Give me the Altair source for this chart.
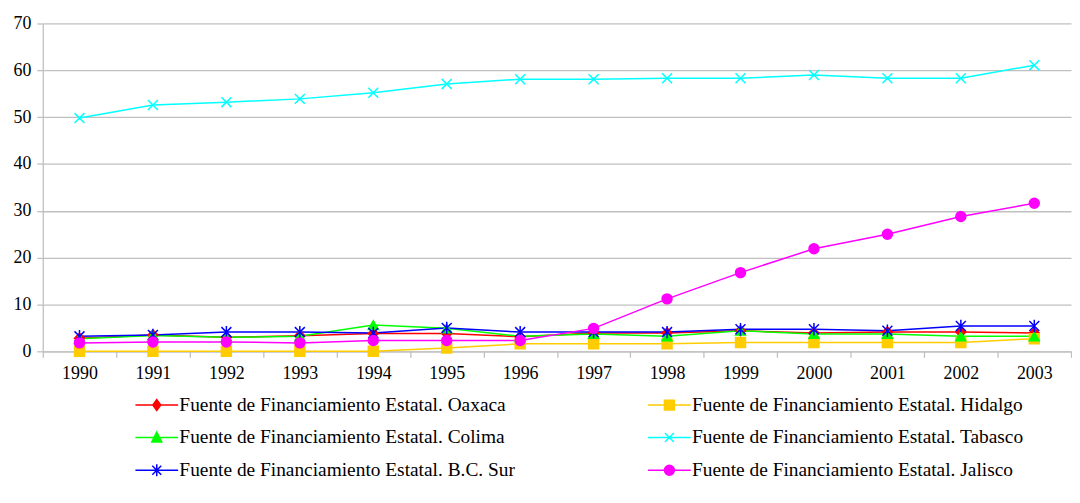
import altair as alt
import pandas as pd

years = [str(y) for y in range(1990, 2004)]

series = [
    "Fuente de Financiamiento Estatal. Oaxaca",
    "Fuente de Financiamiento Estatal. Hidalgo",
    "Fuente de Financiamiento Estatal. Colima",
    "Fuente de Financiamiento Estatal. Tabasco",
    "Fuente de Financiamiento Estatal. B.C. Sur",
    "Fuente de Financiamiento Estatal. Jalisco",
]

oaxaca = [2.8, 3.5, 3.0, 3.3, 3.8, 3.8, 3.1, 3.9, 3.9, 4.4, 3.9, 4.1, 4.1, 3.9]
hidalgo = [0, 0, 0, 0, 0, 0.7, 1.6, 1.6, 1.6, 1.9, 1.9, 1.9, 1.9, 2.7]
colima = [2.7, 3.4, 3.0, 3.2, 5.6, 4.9, 3.2, 3.7, 3.2, 4.4, 3.7, 3.7, 3.2, 3.2]
tabasco = [49.8, 52.6, 53.2, 53.9, 55.2, 57.1, 58.1, 58.1, 58.3, 58.3, 59.0, 58.3, 58.3, 61.1]
bcsur = [3.2, 3.5, 4.1, 4.1, 3.9, 5.0, 4.1, 4.1, 4.1, 4.7, 4.7, 4.4, 5.4, 5.4]
jalisco = [1.8, 2.0, 2.0, 1.8, 2.3, 2.3, 2.3, 4.9, 11.2, 16.8, 21.9, 25.0, 28.8, 31.6]

values = [oaxaca, hidalgo, colima, tabasco, bcsur, jalisco]
colors = ["#FF0000", "#FFCC00", "#00FF00", "#00FFFF", "#0000FF", "#FF00FF"]

point_shapes = [
    "diamond",
    "square",
    "triangle-up",
    "M-1,-1L1,1M-1,1L1,-1",
    "M-1,-1L1,1M-1,1L1,-1M0,-1.25L0,1.25",
    "circle",
]
LINE = "M-4.3,0L4.3,0"
legend_shapes = [
    LINE + "M0,-1.1L0.8,0L0,1.1L-0.8,0Z",
    LINE + "M-1,-1H1V1H-1Z",
    LINE + "M0,-1.1L1,0.9H-1Z",
    LINE + "M-0.9,-0.9L0.9,0.9M-0.9,0.9L0.9,-0.9",
    LINE + "M-0.9,-0.9L0.9,0.9M-0.9,0.9L0.9,-0.9M0,-1.2L0,1.2",
    LINE + "M-1,0A1,1 0 1,0 1,0A1,1 0 1,0 -1,0Z",
]

rows = []
for name, vals in zip(series, values):
    for yr, v in zip(years, vals):
        rows.append({"year": yr, "series": name, "value": v})
df = pd.DataFrame(rows)


def switch_expr(options):
    expr = "'%s'" % options[-1]
    for s, o in reversed(list(zip(series[:-1], options[:-1]))):
        expr = "datum.value === '%s' ? '%s' : (%s)" % (s, o, expr)
    return alt.ExprRef(expr=expr)


FONT = "Times New Roman"
GRAY = "#C0C0C0"

x_enc = alt.X(
    "year:O",
    title=None,
    bandPosition=0.5,
    scale=alt.Scale(type="band", paddingInner=0, paddingOuter=0, domain=years),
    axis=alt.Axis(
        labelAngle=0,
        tickBand="extent",
        grid=False,
        domainColor=GRAY,
        domainWidth=1.3,
        tickColor=GRAY,
        tickWidth=1.3,
        tickSize=6,
        labelFont=FONT,
        labelFontSize=18,
        labelColor="black",
        labelPadding=7,
    ),
)
y_enc = alt.Y(
    "value:Q",
    title=None,
    scale=alt.Scale(domain=[0, 70], nice=False),
    axis=alt.Axis(
        values=[0, 10, 20, 30, 40, 50, 60, 70],
        grid=True,
        gridColor=GRAY,
        gridWidth=1.3,
        domainColor=GRAY,
        domainWidth=1.3,
        tickColor=GRAY,
        tickWidth=1.3,
        tickSize=6,
        labelFont=FONT,
        labelFontSize=18,
        labelColor="black",
        labelPadding=6,
    ),
)

legend = alt.Legend(
    title=None,
    orient="none",
    legendX=105,
    legendY=374,
    columns=2,
    columnPadding=130,
    rowPadding=12,
    symbolSize=100,
    symbolStrokeWidth=1.5,
    symbolOffset=0,
    symbolOpacity=1,
    symbolType=switch_expr(legend_shapes),
    symbolFillColor=switch_expr(colors),
    symbolStrokeColor=switch_expr(colors),
    labelOffset=13,
    labelFont=FONT,
    labelFontSize=19.5,
    labelColor="black",
    labelLimit=600,
)

# legend lays out column by column: order the domain so rows read pairwise
legend_order = [0, 2, 4, 1, 3, 5]
color_enc = alt.Color(
    "series:N",
    scale=alt.Scale(domain=[series[i] for i in legend_order], range=[colors[i] for i in legend_order]),
    legend=legend,
)
perm = [5, 4, 3, 2, 1, 0]
stroke_enc = alt.Stroke(
    "series:N",
    scale=alt.Scale(domain=[series[i] for i in perm], range=[colors[i] for i in perm]),
    legend=None,
)
perm2 = [1, 2, 3, 4, 5, 0]
shape_enc = alt.Shape(
    "series:N",
    scale=alt.Scale(domain=[series[i] for i in perm2], range=[point_shapes[i] for i in perm2]),
    legend=None,
)

lines = alt.Chart(df).mark_line(strokeWidth=1.5).encode(
    x=x_enc,
    y=y_enc,
    color=color_enc,
    detail="series:N",
)

points = alt.Chart(df).mark_point(filled=True, size=100, strokeWidth=1.5, opacity=1).encode(
    x=x_enc,
    y=y_enc,
    color=color_enc,
    stroke=stroke_enc,
    shape=shape_enc,
)

chart = (
    alt.layer(lines, points)
    .properties(
        width=1035,
        height=330,
        padding={"left": 5, "top": 5, "right": 0, "bottom": 5},
        background="white",
    )
    .configure(font=FONT)
    .configure_view(stroke=None)
)

chart.save("out.html", embed_options={"renderer": "svg", "actions": False})
